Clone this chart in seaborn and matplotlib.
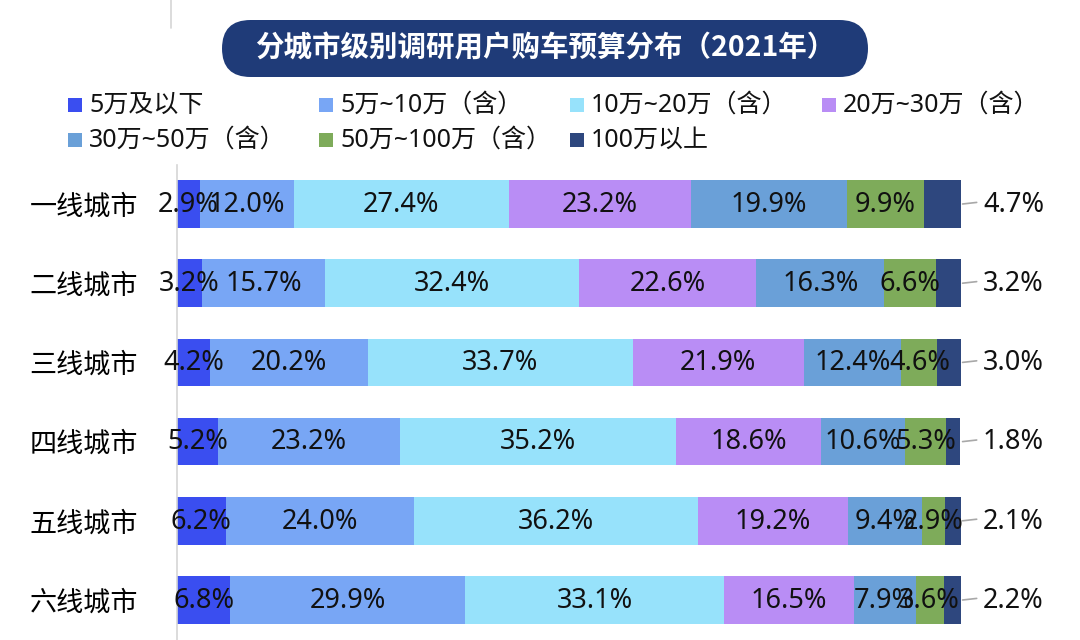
import matplotlib
matplotlib.use("Agg")
import matplotlib.pyplot as plt
import seaborn as sns
import numpy as np
import pandas as pd
from matplotlib.patches import FancyBboxPatch, Rectangle
from matplotlib.lines import Line2D
from matplotlib.transforms import Affine2D

sns.set_theme(style="white")
plt.rcParams['font.family'] = ['Noto Sans', 'Noto Sans CJK SC', 'DejaVu Sans']

# ---------------- data ----------------
title = "分城市级别调研用户购车预算分布（2021年）"
cities = ["一线城市", "二线城市", "三线城市", "四线城市", "五线城市", "六线城市"]
series_names = ["5万及以下", "5万~10万（含）", "10万~20万（含）", "20万~30万（含）",
                "30万~50万（含）", "50万~100万（含）", "100万以上"]
s_5 = [2.9, 3.2, 4.2, 5.2, 6.2, 6.8]
s_5_10 = [12.0, 15.7, 20.2, 23.2, 24.0, 29.9]
s_10_20 = [27.4, 32.4, 33.7, 35.2, 36.2, 33.1]
s_20_30 = [23.2, 22.6, 21.9, 18.6, 19.2, 16.5]
s_30_50 = [19.9, 16.3, 12.4, 10.6, 9.4, 7.9]
s_50_100 = [9.9, 6.6, 4.6, 5.3, 2.9, 3.6]
s_100 = [4.7, 3.2, 3.0, 1.8, 2.1, 2.2]
colors = ["#3a4ef0", "#78a6f5", "#97e2fb", "#b98df5", "#6aa0d8", "#7eab5a", "#2e477e"]

series = [s_5, s_5_10, s_10_20, s_20_30, s_30_50, s_50_100, s_100]
df = pd.DataFrame({name: vals for name, vals in zip(series_names, series)}, index=cities)
cum = df.cumsum(axis=1)
lefts = cum.shift(1, axis=1).fillna(0)

W, H = 1080, 640
fig = plt.figure(figsize=(W / 100, H / 100), dpi=100)
fig.patch.set_facecolor("white")

ax_top = 165
ax = fig.add_axes([177 / W, 0, (961 - 177) / W, (H - ax_top) / H])

# stacked bars: draw from the last cumulative to the first so each overlays
for i in range(len(series_names) - 1, -1, -1):
    d = pd.DataFrame({"city": cities, "val": cum.iloc[:, i].values})
    sns.barplot(data=d, x="val", y="city", orient="h", color=colors[i],
                saturation=1, width=0.6, linewidth=0, ax=ax, zorder=1)

row_px = 79.2
ax.set_xlim(0, 100)
ax.set_ylim(5 + (H - 600) / row_px, (ax_top - 204) / row_px)
ax.set_xlabel("")
ax.set_ylabel("")
ax.set_xticks([])
ax.tick_params(axis="y", length=0, pad=28, labelsize=19.5, labelcolor="black")
for lab in ax.get_yticklabels():
    lab.set_fontfamily(['Noto Sans CJK SC', 'DejaVu Sans'])
for s in ["top", "right", "bottom"]:
    ax.spines[s].set_visible(False)
ax.spines["left"].set_color("#d6d6d6")
ax.spines["left"].set_linewidth(1.2)

# labels
for r, city in enumerate(cities):
    for i, name in enumerate(series_names):
        v = df.loc[city, name]
        l = lefts.loc[city, name]
        if i < len(series_names) - 1:
            ax.text(l + v / 2, r + 0.01, f"{v:.1f}%", ha="center", va="center",
                    fontsize=19.5, color="#111111", zorder=5)
        else:
            ax.plot([100.2, 102.0], [r, r - 0.02], color="#a8a8a8", lw=1.2,
                    clip_on=False, zorder=5)
            ax.text(102.8, r + 0.01, f"{v:.1f}%", ha="left", va="center",
                    fontsize=19.5, color="#111111", clip_on=False)

# short grey line at top-left
fig.add_artist(Line2D([171 / W, 171 / W], [1, 1 - 28 / H], color="#d6d6d6", lw=1.2))

# title pill (pixel coordinates)
px0, px1, py0, py1 = 222, 868, 20, 77
rad = (py1 - py0) / 2
pix2fig = Affine2D().scale(1 / W, 1 / H) + fig.transFigure
pill = FancyBboxPatch((px0, H - py1), px1 - px0, py1 - py0,
                      boxstyle=f"round,pad=0,rounding_size={rad}",
                      transform=pix2fig, facecolor="#1f3b78", edgecolor="none", zorder=3)
fig.add_artist(pill)
fig.text((px0 + px1) / 2 / W, 1 - 48 / H, title, ha="center", va="center",
         color="white", fontsize=20.5, fontweight="bold",
         family=['Noto Sans CJK SC', 'DejaVu Sans'], zorder=4)

# legend (manual)
col_x = [68, 319, 570, 822]
row_y = [105, 140]
for k, (name, c) in enumerate(zip(series_names, colors)):
    rr, cc = divmod(k, 4)
    x = col_x[cc]
    y = row_y[rr]
    fig.add_artist(Rectangle((x, H - y - 7), 14, 14, transform=pix2fig,
                             facecolor=c, edgecolor="none"))
    fig.text((x + 21) / W, 1 - y / H, name, ha="left", va="center",
             fontsize=18, color="#111111")

fig.savefig("out.png", dpi=100, facecolor="white")
